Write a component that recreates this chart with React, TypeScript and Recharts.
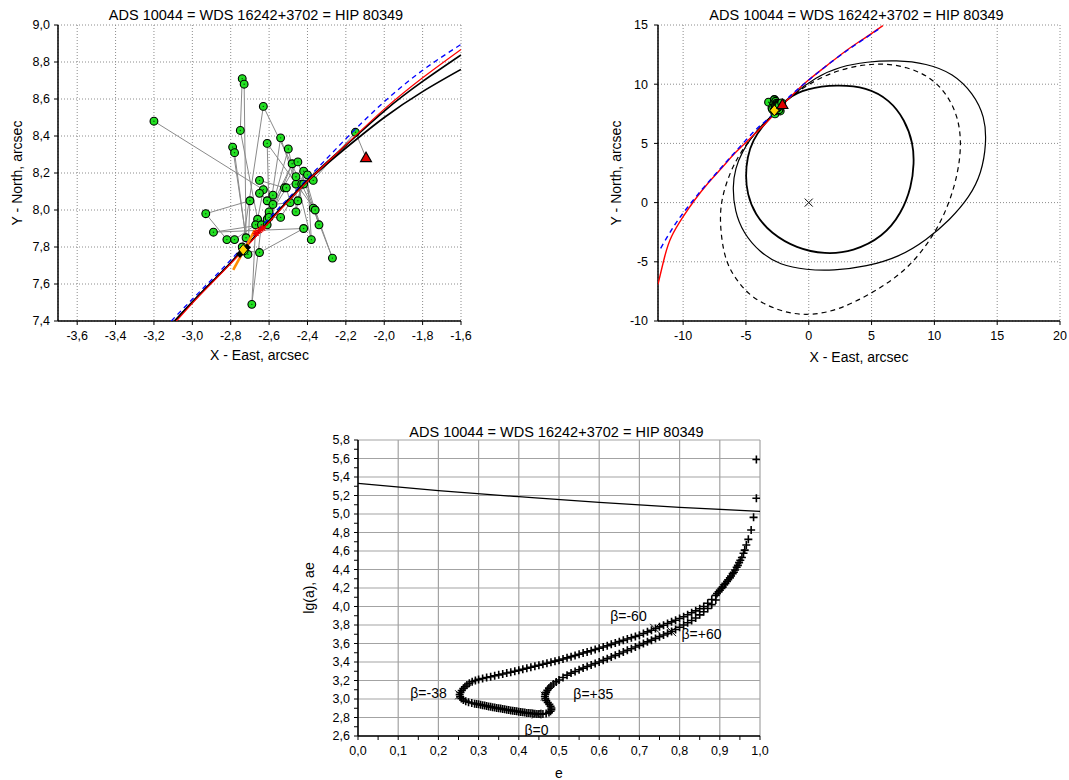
import React from 'react';
import { ScatterChart, Scatter, XAxis, YAxis, CartesianGrid, Label } from 'recharts';

const FONT = '"Liberation Sans", Arial, Helvetica, sans-serif';
const TITLE = 'ADS 10044 = WDS 16242+3702 = HIP 80349';

type P = [number, number];

// ---------- observations (X, Y arcsec), in observing order ----------
const observations: P[] = [
  [-3.20, 8.48], [-2.63, 8.11], [-2.66, 7.95], [-2.75, 8.43], [-2.74, 8.71], [-2.73, 8.68],
  [-2.72, 7.85], [-2.79, 8.34], [-2.78, 8.31], [-2.71, 7.76], [-2.70, 8.05], [-2.93, 7.98],
  [-2.82, 7.84], [-2.78, 7.84], [-2.67, 7.92], [-2.69, 7.49], [-2.64, 7.92], [-2.89, 7.88],
  [-2.42, 7.90], [-2.65, 7.77], [-2.73, 7.78], [-2.74, 7.80], [-2.63, 8.56], [-2.37, 8.01],
  [-2.27, 7.74], [-2.36, 8.00], [-2.61, 8.36], [-2.60, 7.97], [-2.54, 8.39], [-2.46, 8.14],
  [-2.50, 8.33], [-2.61, 7.92], [-2.48, 8.25], [-2.60, 7.99], [-2.45, 8.26], [-2.34, 7.92],
  [-2.42, 8.21], [-2.46, 7.99], [-2.46, 8.18], [-2.38, 7.84], [-2.40, 8.19], [-2.52, 8.12],
  [-2.65, 8.16], [-2.58, 8.08], [-2.61, 8.05], [-2.65, 8.09], [-2.58, 8.03], [-2.49, 8.04],
  [-2.51, 8.12], [-2.61, 7.95], [-2.60, 7.96], [-2.54, 7.96], [-2.43, 8.14], [-2.45, 8.05],
  [-2.42, 8.14], [-2.37, 8.16], [-2.15, 8.42],
];
const triangleLink: P[] = [[-2.15, 8.42], [-2.095, 8.283]];
const lastPosition: P[] = [[-2.095, 8.283]];
const ephemeris: P[] = [[-2.735, 7.785]];
const blackMarks: P[] = [[-2.752, 7.762], [-2.715, 7.797]];
const redMarks: P[] = [[-2.668, 7.874], [-2.65, 7.89], [-2.633, 7.902]];
const motionVector: P[] = [[-2.787, 7.676], [-2.674, 7.892]];

// ---------- orbit arcs in the zoomed panel ----------
const zoomOrbitA: P[] = [[-3.092, 7.40], [-2.96, 7.545], [-2.8, 7.715], [-2.6, 7.94], [-2.4, 8.16], [-2.2, 8.35], [-2.0, 8.535], [-1.8, 8.695], [-1.6, 8.838]];
const zoomOrbitB: P[] = [[-3.092, 7.40], [-2.96, 7.545], [-2.8, 7.715], [-2.6, 7.94], [-2.4, 8.155], [-2.2, 8.335], [-2.0, 8.50], [-1.8, 8.64], [-1.6, 8.76]];
const zoomOrbitRed: P[] = [[-3.083, 7.40], [-2.96, 7.54], [-2.8, 7.71], [-2.6, 7.935], [-2.4, 8.155], [-2.2, 8.352], [-2.0, 8.545], [-1.8, 8.715], [-1.6, 8.868]];
const zoomOrbitBlue: P[] = [[-3.11, 7.40], [-2.96, 7.56], [-2.8, 7.73], [-2.6, 7.955], [-2.4, 8.17], [-2.2, 8.385], [-2.0, 8.585], [-1.8, 8.755], [-1.6, 8.895]];

// ---------- full orbits ----------
const innerOrbit: P[] = [
  [-2.76, 7.5], [-1.77, 8.81], [-0.18, 9.65], [2.26, 9.96], [4.60, 9.74], [6.45, 8.67], [7.65, 6.98],
  [8.31, 5.01], [8.39, 3.32], [8.18, 1.35], [7.38, -0.91], [5.92, -2.88], [3.53, -4.14], [1.28, -4.37],
  [-0.98, -3.86], [-3.0, -2.6], [-4.3, -1.0], [-4.9, 0.78], [-5.03, 2.19], [-4.9, 3.88], [-4.43, 5.29], [-3.7, 6.45],
];
const middleOrbit: P[] = [
  [-2.76, 7.5], [-1.51, 8.95], [0.62, 10.64], [2.47, 11.48], [4.60, 11.90], [6.99, 12.04], [9.37, 11.76],
  [11.50, 10.92], [13.09, 9.23], [14.02, 7.26], [14.15, 5.01], [13.75, 2.47], [12.82, 0.50], [11.23, -1.47],
  [9.37, -3.16], [7.25, -4.57], [4.60, -5.41], [1.94, -5.75], [-0.18, -5.69], [-2.30, -5.27], [-3.9, -4.2],
  [-5.2, -2.6], [-5.9, -0.7], [-6.07, 1.35], [-5.85, 2.9], [-5.3, 4.3], [-4.5, 5.6], [-3.7, 6.6],
];
const dashedOrbit: P[] = [
  [-2.76, 7.5], [-1.77, 8.67], [-0.18, 9.93], [1.94, 11.06], [4.07, 11.62], [5.92, 11.76], [7.78, 11.48],
  [9.64, 10.64], [10.97, 9.23], [11.89, 7.26], [12.16, 5.01], [11.89, 2.47], [11.10, -0.34], [9.90, -2.88],
  [8.05, -5.41], [5.92, -7.10], [3.53, -8.51], [1.41, -9.35], [-0.71, -9.52], [-2.57, -9.07], [-4.6, -8.0],
  [-5.76, -6.54], [-6.55, -5.13], [-6.95, -3.16], [-7.09, -0.90], [-6.82, 0.79], [-6.29, 2.47], [-5.63, 3.88],
  [-4.83, 5.14], [-4.04, 6.13], [-3.3, 6.9],
];
const redOrbit: P[] = [
  [-12.0, -6.9], [-11.47, -4.57], [-10.93, -2.88], [-10.0, -1.19], [-9.08, 0.22], [-8.02, 1.63], [-6.95, 2.90],
  [-5.89, 4.16], [-5.02, 5.06], [-4.30, 5.79], [-3.50, 6.62], [-2.76, 7.45], [-1.77, 8.6], [-0.18, 10.2],
  [1.41, 11.55], [3.0, 12.85], [4.6, 14.0], [5.9, 14.95],
];
const blueOrbit: P[] = [
  [-11.79, -3.86], [-10.67, -1.89], [-9.61, -0.35], [-8.54, 1.06], [-7.49, 2.33], [-6.43, 3.60], [-5.36, 4.86],
  [-4.30, 6.07], [-3.50, 6.83], [-2.76, 7.55], [-1.77, 8.7], [-0.71, 9.72], [1.94, 11.99], [4.60, 13.96], [5.66, 14.72],
];
const primary: P[] = [[0, 0]];

// ---------- e / lg(a) solutions ----------
const lgaTail: P[] = [
  [0.991, 5.59], [0.991, 5.17], [0.984, 4.964], [0.978, 4.827], [0.971, 4.726], [0.966, 4.665], [0.962, 4.61],
  [0.959, 4.575], [0.955, 4.53], [0.951, 4.50], [0.948, 4.474], [0.945, 4.445], [0.942, 4.425], [0.938, 4.395],
  [0.935, 4.37], [0.932, 4.355], [0.928, 4.33], [0.925, 4.31], [0.921, 4.29], [0.918, 4.27], [0.914, 4.25],
  [0.911, 4.235], [0.907, 4.21], [0.904, 4.195], [0.900, 4.175], [0.897, 4.16], [0.893, 4.14],
];
const lgaUpper: P[] = [
  [0.89, 4.12], [0.88, 4.075], [0.87, 4.035], [0.86, 4.0], [0.85, 3.975], [0.84, 3.953], [0.83, 3.932], [0.82, 3.911],
  [0.81, 3.89], [0.80, 3.87], [0.79, 3.852], [0.78, 3.834], [0.77, 3.816], [0.76, 3.798], [0.75, 3.78], [0.74, 3.762],
  [0.73, 3.744], [0.72, 3.726], [0.71, 3.708], [0.70, 3.69], [0.69, 3.676], [0.68, 3.662], [0.67, 3.648], [0.66, 3.634],
  [0.65, 3.62], [0.64, 3.605], [0.63, 3.591], [0.62, 3.576], [0.61, 3.562], [0.60, 3.548], [0.59, 3.535], [0.58, 3.522],
  [0.57, 3.509], [0.56, 3.497], [0.55, 3.484], [0.54, 3.471], [0.53, 3.458], [0.52, 3.445], [0.51, 3.433], [0.50, 3.42],
  [0.49, 3.409], [0.48, 3.398], [0.47, 3.387], [0.46, 3.376], [0.45, 3.365], [0.44, 3.354], [0.43, 3.343], [0.42, 3.332],
  [0.41, 3.321], [0.40, 3.31], [0.39, 3.30], [0.38, 3.29], [0.37, 3.281], [0.36, 3.271], [0.35, 3.261], [0.34, 3.251],
  [0.33, 3.241], [0.32, 3.232], [0.31, 3.222], [0.30, 3.212], [0.292, 3.20], [0.284, 3.186], [0.277, 3.17], [0.271, 3.152],
  [0.266, 3.133], [0.262, 3.113], [0.258, 3.092], [0.255, 3.07], [0.253, 3.047],
];
const lgaLoop: P[] = [
  [0.254, 3.025], [0.257, 3.006], [0.262, 2.99], [0.268, 2.977], [0.275, 2.966], [0.283, 2.957], [0.29, 2.95],
  [0.295, 2.946], [0.30, 2.942], [0.305, 2.938], [0.31, 2.933], [0.315, 2.929], [0.32, 2.924], [0.325, 2.92],
  [0.33, 2.915], [0.335, 2.911], [0.34, 2.907], [0.345, 2.903], [0.35, 2.899], [0.355, 2.896], [0.36, 2.892],
  [0.365, 2.888], [0.37, 2.884], [0.375, 2.881], [0.38, 2.877], [0.385, 2.874], [0.39, 2.87], [0.395, 2.867],
  [0.40, 2.863], [0.405, 2.86], [0.41, 2.856], [0.415, 2.853], [0.42, 2.85], [0.425, 2.848], [0.43, 2.845],
  [0.435, 2.843], [0.44, 2.84], [0.445, 2.838], [0.45, 2.837], [0.455, 2.837], [0.46, 2.838], [0.468, 2.843],
  [0.475, 2.853], [0.479, 2.868], [0.481, 2.885], [0.481, 2.903], [0.479, 2.922], [0.476, 2.942], [0.472, 2.962],
  [0.468, 2.983], [0.466, 3.005], [0.465, 3.027], [0.466, 3.05], [0.468, 3.072], [0.471, 3.095], [0.475, 3.118],
  [0.48, 3.14], [0.486, 3.162], [0.493, 3.185], [0.50, 3.205],
];
const lgaLower: P[] = [
  [0.51, 3.232], [0.52, 3.258], [0.53, 3.28], [0.54, 3.298], [0.55, 3.316], [0.56, 3.334], [0.57, 3.352], [0.58, 3.368],
  [0.59, 3.384], [0.60, 3.40], [0.61, 3.418], [0.62, 3.436], [0.63, 3.454], [0.64, 3.472], [0.65, 3.49], [0.66, 3.508],
  [0.67, 3.526], [0.68, 3.544], [0.69, 3.562], [0.70, 3.58], [0.71, 3.599], [0.72, 3.618], [0.73, 3.636], [0.74, 3.655],
  [0.75, 3.674], [0.76, 3.692], [0.77, 3.71], [0.78, 3.729], [0.79, 3.752], [0.80, 3.776], [0.81, 3.80], [0.82, 3.824],
  [0.83, 3.848], [0.84, 3.876], [0.85, 3.91], [0.86, 3.944], [0.87, 3.978], [0.88, 4.02], [0.89, 4.07],
];
const limitLine: P[] = [[0, 5.332], [0.2, 5.252], [0.4, 5.187], [0.6, 5.126], [0.8, 5.072], [1.0, 5.029]];
const betaMarks = [
  { x: 0.738, y: 3.764, label: 'β=-60' },
  { x: 0.780, y: 3.728, label: 'β=+60' },
  { x: 0.253, y: 3.045, label: 'β=-38' },
  { x: 0.466, y: 3.03, label: 'β=+35' },
  { x: 0.444, y: 2.838, label: 'β=0' },
];

// ---------- tick labels ----------
const p1XTicks = [-3.6, -3.4, -3.2, -3.0, -2.8, -2.6, -2.4, -2.2, -2.0, -1.8, -1.6];
const p1YTicks = [7.4, 7.6, 7.8, 8.0, 8.2, 8.4, 8.6, 8.8, 9.0];
const p2XTicks = [-10, -5, 0, 5, 10, 15, 20];
const p2YTicks = [-10, -5, 0, 5, 10, 15];
const p3XTicks = [0, 0.05, 0.1, 0.15, 0.2, 0.25, 0.3, 0.35, 0.4, 0.45, 0.5, 0.55, 0.6, 0.65, 0.7, 0.75, 0.8, 0.85, 0.9, 0.95, 1.0];
const p3XGrid = [0, 0.1, 0.2, 0.3, 0.4, 0.5, 0.6, 0.7, 0.8, 0.9, 1.0];
const p3YTicks = [2.6, 2.7, 2.8, 2.9, 3.0, 3.1, 3.2, 3.3, 3.4, 3.5, 3.6, 3.7, 3.8, 3.9, 4.0, 4.1, 4.2, 4.3, 4.4, 4.5, 4.6, 4.7, 4.8, 4.9, 5.0, 5.1, 5.2, 5.3, 5.4, 5.5, 5.6, 5.7, 5.8];
const p3YGrid = [2.6, 2.8, 3.0, 3.2, 3.4, 3.6, 3.8, 4.0, 4.2, 4.4, 4.6, 4.8, 5.0, 5.2, 5.4, 5.6, 5.8];

// ---------- helpers ----------
const toXY = (a: P[]) => a.map(([x, y]) => ({ x, y }));
const fmt1 = (v: number) => v.toFixed(1).replace('.', ',');
const fmt0 = (v: number) => String(v);
const fmtX3 = (v: number) => (Math.round(v * 100) % 10 === 0 ? fmt1(v) : '');
const fmtY3 = (v: number) => (Math.round(v * 10) % 2 === 0 ? fmt1(v) : '');

const tickStyle = { fill: '#000', fontSize: 12.5, fontFamily: FONT };
const labelStyle: React.CSSProperties = { fontSize: 14, fill: '#000', fontFamily: FONT };
const axisCommon = {
  tickSize: 4,
  axisLine: { stroke: '#000', strokeWidth: 1.5 },
  tickLine: { stroke: '#000', strokeWidth: 1 },
  tick: tickStyle,
  interval: 0 as const,
  allowDataOverflow: true,
};

const NoShape = () => <g />;
const GreenDot = (p: any) => (
  <g>
    <circle cx={p.cx} cy={p.cy} r={3.9} fill="#22e022" stroke="#000" strokeWidth={1.1} />
    <circle cx={p.cx} cy={p.cy} r={0.7} fill="#0a4a0a" />
  </g>
);
const Triangle = (p: any) => (
  <polygon points={`${p.cx},${p.cy - 5.5} ${p.cx + 5.5},${p.cy + 4} ${p.cx - 5.5},${p.cy + 4}`} fill="#e00000" stroke="#000" strokeWidth={1.1} />
);
const Diamond = (p: any) => (
  <polygon points={`${p.cx},${p.cy - 5.5} ${p.cx + 4.5},${p.cy} ${p.cx},${p.cy + 5.5} ${p.cx - 4.5},${p.cy}`} fill="#ffd400" stroke="#000" strokeWidth={1} />
);
const BlackSquare = (p: any) => <rect x={p.cx - 2.8} y={p.cy - 2.8} width={5.6} height={5.6} fill="#000" transform={`rotate(45 ${p.cx} ${p.cy})`} />;
const RedStar = (p: any) => (
  <path d={`M${p.cx - 3.5},${p.cy}H${p.cx + 3.5}M${p.cx},${p.cy - 3.5}V${p.cy + 3.5}M${p.cx - 2.5},${p.cy - 2.5}L${p.cx + 2.5},${p.cy + 2.5}M${p.cx - 2.5},${p.cy + 2.5}L${p.cx + 2.5},${p.cy - 2.5}`} stroke="#ee0000" strokeWidth={1.3} />
);
const Cross = (p: any) => (
  <path d={`M${p.cx - 4},${p.cy - 4}L${p.cx + 4},${p.cy + 4}M${p.cx - 4},${p.cy + 4}L${p.cx + 4},${p.cy - 4}`} stroke="#000" strokeWidth={1} />
);
const Plus = (p: any) => (
  <path d={`M${p.cx - 4},${p.cy}H${p.cx + 4}M${p.cx},${p.cy - 4}V${p.cy + 4}`} stroke="#000" strokeWidth={1.6} />
);

const betaTextPlacement: Record<string, { dx: number; dy: number; anchor: 'start' | 'middle' | 'end' }> = {
  'β=-60': { dx: -8, dy: -7, anchor: 'end' },
  'β=+60': { dx: 10, dy: 7, anchor: 'start' },
  'β=-38': { dx: -13, dy: 3, anchor: 'end' },
  'β=+35': { dx: 28, dy: 3, anchor: 'start' },
  'β=0': { dx: 0, dy: 21, anchor: 'middle' },
};
const BetaMark = (p: any) => {
  const lab = p.payload?.label ?? '';
  const pl = betaTextPlacement[lab] || { dx: 0, dy: 0, anchor: 'start' };
  return (
    <g>
      <path d={`M${p.cx - 4.5},${p.cy - 4.5}L${p.cx + 4.5},${p.cy + 4.5}M${p.cx - 4.5},${p.cy + 4.5}L${p.cx + 4.5},${p.cy - 4.5}`} stroke="#000" strokeWidth={1} />
      <text x={p.cx + pl.dx} y={p.cy + pl.dy} textAnchor={pl.anchor} fontSize={14} fontFamily={FONT} fill="#000">{lab}</text>
    </g>
  );
};

const lineOnly = (data: P[], stroke: string, width: number, dash?: string, joint: any = 'natural') => (
  <Scatter
    data={toXY(data)}
    line={{ stroke, strokeWidth: width, strokeDasharray: dash, fill: 'none' }}
    lineJointType={joint}
    shape={NoShape}
    fill={stroke}
    isAnimationActive={false}
  />
);

function Panel1() {
  return (
    <ScatterChart width={480} height={370} margin={{ top: 25, right: 19, bottom: 0, left: 0 }}>
      <CartesianGrid stroke="#8c8c8c" strokeDasharray="1 2" />
      <XAxis type="number" dataKey="x" domain={[-3.7, -1.6]} ticks={p1XTicks} tickFormatter={fmt1} height={49} tickMargin={6} {...axisCommon}>
        <Label value="X - East, arcsec" position="insideBottom" offset={10} style={labelStyle} />
      </XAxis>
      <YAxis type="number" dataKey="y" domain={[7.4, 9.0]} ticks={p1YTicks} tickFormatter={fmt1} width={58} tickMargin={4} {...axisCommon}>
        <Label value="Y - North, arcsec" angle={-90} position="insideLeft" offset={17} style={{ ...labelStyle, textAnchor: 'middle' }} />
      </YAxis>
      {lineOnly(triangleLink, '#8a8a8a', 1, undefined, 'linear')}
      <Scatter data={toXY(observations)} line={{ stroke: '#8a8a8a', strokeWidth: 1 }} shape={GreenDot} fill="#8a8a8a" isAnimationActive={false} />
      {lineOnly(zoomOrbitBlue, '#0000ff', 1.3, '5 4')}
      {lineOnly(zoomOrbitA, '#000', 1.7)}
      {lineOnly(zoomOrbitB, '#000', 1.7)}
      {lineOnly(zoomOrbitRed, '#ff0000', 1.2)}
      {lineOnly(motionVector, '#ff8c00', 2.6, undefined, 'linear')}
      <Scatter data={toXY(redMarks)} shape={RedStar} isAnimationActive={false} />
      <Scatter data={toXY(blackMarks)} shape={BlackSquare} isAnimationActive={false} />
      <Scatter data={toXY(ephemeris)} shape={Diamond} isAnimationActive={false} />
      <Scatter data={toXY(lastPosition)} shape={Triangle} isAnimationActive={false} />
    </ScatterChart>
  );
}

function Panel2() {
  return (
    <ScatterChart width={469} height={370} margin={{ top: 25, right: 9, bottom: 0, left: 0 }}>
      <CartesianGrid stroke="#8c8c8c" strokeDasharray="1 2" />
      <XAxis type="number" dataKey="x" domain={[-12, 20]} ticks={p2XTicks} tickFormatter={fmt0} height={49} tickMargin={6} {...axisCommon}>
        <Label value="X - East, arcsec" position="insideBottom" offset={8} style={labelStyle} />
      </XAxis>
      <YAxis type="number" dataKey="y" domain={[-10, 15]} ticks={p2YTicks} tickFormatter={fmt0} width={58} tickMargin={6} {...axisCommon}>
        <Label value="Y - North, arcsec" angle={-90} position="insideLeft" offset={16} style={{ ...labelStyle, textAnchor: 'middle' }} />
      </YAxis>
      {lineOnly(dashedOrbit, '#000', 1.2, '5 4', 'basisClosed')}
      {lineOnly(middleOrbit, '#000', 1.2, undefined, 'basisClosed')}
      {lineOnly(innerOrbit, '#000', 1.8, undefined, 'basisClosed')}
      {lineOnly(redOrbit, '#ff0000', 1.4)}
      {lineOnly(blueOrbit, '#0000ff', 1.4, '5 4')}
      <Scatter data={toXY(primary)} shape={Cross} isAnimationActive={false} />
      <Scatter data={toXY(observations)} shape={GreenDot} isAnimationActive={false} />
      {lineOnly(motionVector, '#ff8c00', 2.2, undefined, 'linear')}
      <Scatter data={toXY(blackMarks)} shape={BlackSquare} isAnimationActive={false} />
      <Scatter data={toXY(ephemeris)} shape={Diamond} isAnimationActive={false} />
      <Scatter data={toXY(lastPosition)} shape={Triangle} isAnimationActive={false} />
    </ScatterChart>
  );
}

function Panel3() {
  return (
    <ScatterChart width={469} height={365} margin={{ top: 25, right: 9, bottom: 0, left: 0 }}>
      <CartesianGrid stroke="#a3a3a3" strokeWidth={1.2} horizontalValues={p3YGrid} verticalValues={p3XGrid} />
      <XAxis type="number" dataKey="x" domain={[0, 1]} ticks={p3XTicks} tickFormatter={fmtX3} height={44} tickMargin={6} {...axisCommon}>
        <Label value="e" position="insideBottom" offset={2} style={labelStyle} />
      </XAxis>
      <YAxis type="number" dataKey="y" domain={[2.6, 5.8]} ticks={p3YTicks} tickFormatter={fmtY3} width={58} tickMargin={4} {...axisCommon}>
        <Label value="lg(a), ae" angle={-90} position="insideLeft" offset={9} style={{ ...labelStyle, textAnchor: 'middle' }} />
      </YAxis>
      {lineOnly(limitLine, '#000', 1.3)}
      <Scatter data={toXY(lgaTail)} shape={Plus} isAnimationActive={false} />
      <Scatter data={toXY(lgaUpper)} shape={Plus} isAnimationActive={false} />
      <Scatter data={toXY(lgaLoop)} shape={Plus} isAnimationActive={false} />
      <Scatter data={toXY(lgaLower)} shape={Plus} isAnimationActive={false} />
      <Scatter data={betaMarks} shape={BetaMark} isAnimationActive={false} />
    </ScatterChart>
  );
}

const titleStyle = (cx: number, top: number): React.CSSProperties => ({
  position: 'absolute',
  left: cx - 200,
  width: 400,
  top,
  height: 18,
  lineHeight: '18px',
  textAlign: 'center',
  fontFamily: FONT,
  fontSize: 14.5,
  color: '#000',
  whiteSpace: 'nowrap',
});

export default function App() {
  return (
    <div style={{ position: 'absolute', left: 0, top: 0, width: 1069, height: 780, background: '#fff', overflow: 'hidden' }}>
      <div style={{ position: 'absolute', left: 0, top: 0 }}><Panel1 /></div>
      <div style={{ position: 'absolute', left: 600, top: 0 }}><Panel2 /></div>
      <div style={{ position: 'absolute', left: 300, top: 415 }}><Panel3 /></div>
      <div style={titleStyle(256, 6)}>{TITLE}</div>
      <div style={titleStyle(856.5, 6)}>{TITLE}</div>
      <div style={titleStyle(556.5, 423)}>{TITLE}</div>
    </div>
  );
}
